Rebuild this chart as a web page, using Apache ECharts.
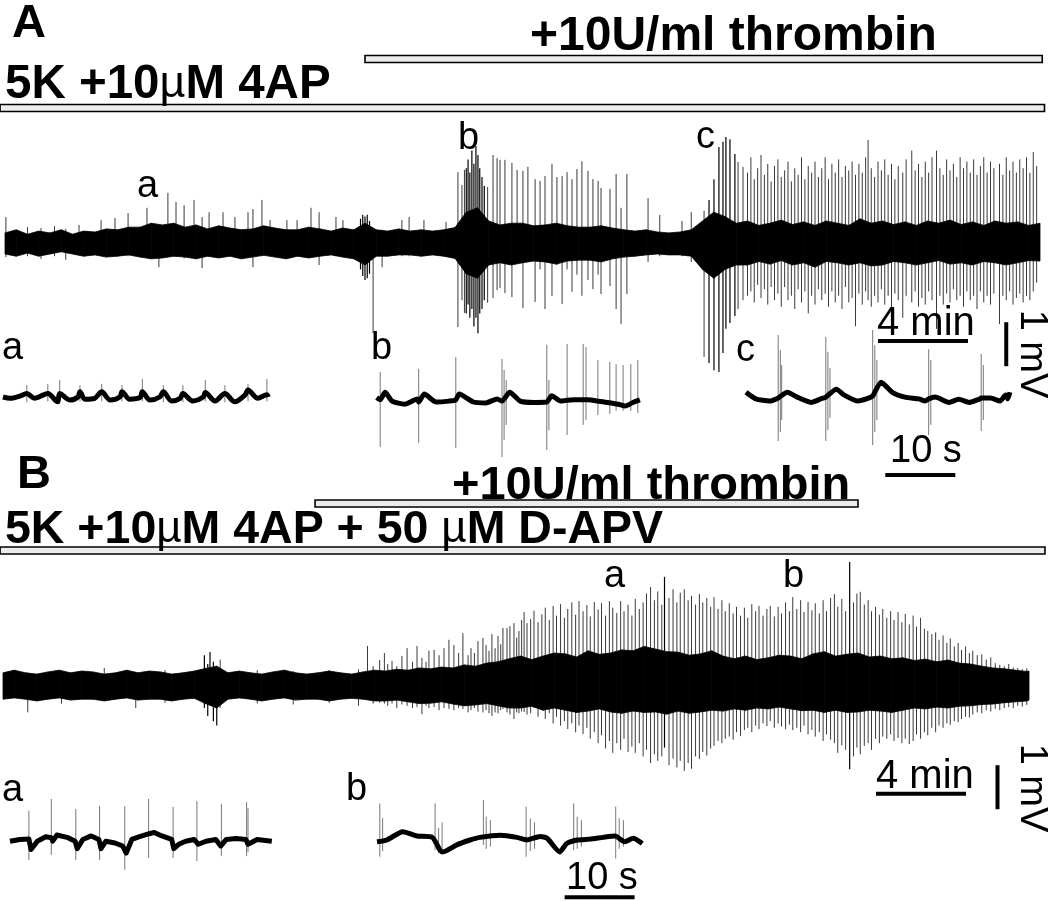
<!DOCTYPE html>
<html><head><meta charset="utf-8">
<script src="https://cdn.jsdelivr.net/npm/echarts/dist/echarts.min.js"></script>
<style>html,body{margin:0;padding:0;background:#fff}#c{width:1050px;height:901px}</style>
</head><body><div id="c"></div>
<script>
// ---------------- DATA (time in min / s, amplitude in mV) ----------------
// Panel A, long recording: noise core envelope sampled every half minute
const coreTimeA = [0,0.5,1,1.5,2,2.5,3,3.5,4,4.5,5,5.5,6,6.5,7,7.5,8,8.5,9,9.5,10,10.5,11,11.5,12,12.5,13,13.5,14,14.5,15,15.5,16,16.5,17,17.5,18,18.5,19,19.5,20,20.5,21,21.5,22,22.5,23,23.5,24,24.5,25,25.5,26,26.5,27,27.5,28,28.5,29,29.5,30,30.5,31,31.5,32,32.5,33,33.5,34,34.5,35,35.5,36,36.5,37,37.5,38,38.5,39,39.5,40,40.5,41,41.5,42,42.5,43,43.5,44,44.5,45,45.5,46];
const coreTopA = [0.23,0.3,0.2,0.27,0.23,0.3,0.2,0.27,0.25,0.32,0.3,0.36,0.36,0.45,0.41,0.45,0.36,0.41,0.32,0.39,0.34,0.3,0.32,0.39,0.34,0.3,0.3,0.36,0.32,0.27,0.34,0.3,0.45,0.3,0.27,0.32,0.27,0.3,0.27,0.3,0.35,0.7,0.8,0.5,0.41,0.45,0.45,0.39,0.41,0.45,0.39,0.36,0.36,0.39,0.34,0.3,0.27,0.3,0.25,0.23,0.25,0.3,0.5,0.7,0.6,0.45,0.5,0.4,0.45,0.52,0.42,0.48,0.4,0.5,0.45,0.4,0.55,0.45,0.5,0.42,0.48,0.4,0.5,0.45,0.52,0.42,0.48,0.4,0.5,0.45,0.48,0.4,0.45];
const coreBotA = [-0.25,-0.3,-0.23,-0.3,-0.25,-0.2,-0.25,-0.3,-0.27,-0.32,-0.3,-0.27,-0.32,-0.36,-0.34,-0.3,-0.32,-0.36,-0.3,-0.34,-0.3,-0.36,-0.32,-0.28,-0.32,-0.36,-0.3,-0.34,-0.3,-0.27,-0.32,-0.36,-0.5,-0.3,-0.3,-0.27,-0.27,-0.3,-0.27,-0.3,-0.35,-0.7,-0.8,-0.5,-0.45,-0.5,-0.45,-0.41,-0.43,-0.48,-0.41,-0.39,-0.39,-0.43,-0.36,-0.32,-0.3,-0.27,-0.25,-0.27,-0.27,-0.3,-0.6,-0.8,-0.6,-0.5,-0.5,-0.42,-0.48,-0.4,-0.5,-0.45,-0.55,-0.42,-0.45,-0.5,-0.45,-0.52,-0.5,-0.42,-0.45,-0.5,-0.45,-0.4,-0.48,-0.45,-0.5,-0.42,-0.45,-0.5,-0.45,-0.4,-0.41];
// Panel A spikes: [time min, top mV, bottom mV, dark]
const spikesA = [
[0.04,0.59,-0.32],[1.0,0.36,-0.3],[1.6,0.34,-0.36],[2.2,0.38,-0.3],[2.7,0.32,-0.38],[3.29,0.41,-0.2],[4.27,0.52,-0.25],[4.89,0.57,-0.25],[5.47,0.68,-0.3],[6.31,0.8,-0.3],[6.84,0.3,-0.55],[7.24,1.14,-0.3],[7.6,0.93,-0.3],[7.96,0.86,-0.35],[8.4,0.98,-0.3],[8.76,0.59,-0.57],[9.07,0.7,-0.3],[9.69,0.7,-0.3],[10.22,0.59,-0.3],[10.8,0.7,-0.3],[11.02,0.77,-0.55],[11.42,0.98,-0.3],[11.78,0.52,-0.3],[12.53,0.52,-0.3],[12.98,0.52,-0.3],[13.6,0.8,-0.3],[13.96,0.7,-0.5],[14.71,0.59,-0.3],[15.02,0.52,-0.3],
[15.8,0.55,-0.6,1],[15.9,0.64,-0.75,1],[16.0,0.6,-0.84,1],[16.1,0.64,-0.8,1],[16.2,0.5,-0.7,1],[16.36,0.3,-2.05],[16.76,0.3,-0.55],[17.64,0.52,-0.3],[17.96,0.59,-0.3],[18.62,0.52,-0.3],[19.6,0.48,-0.3],
[20.13,1.61,-1.91],[20.31,1.32,-1.3],[20.42,1.66,-1.59],
[20.5,1.7,-1.6,1],[20.58,1.9,-1.4,1],[20.66,1.6,-1.7,1],[20.75,2.1,-1.5,1],[20.84,1.8,-1.9,1],[20.93,2.2,-1.7,1],[21.02,2.0,-2.05,1],[21.1,1.7,-1.6,1],[21.2,1.5,-1.5,1],[21.3,1.3,-1.3,1],
[21.45,1.27,-1.36],[21.69,2.0,-1.25],[21.87,1.93,-1.07],[22.0,1.89,-1.02],[22.22,1.89,-1.14],[22.53,1.82,-1.23],[22.76,1.66,-0.4],[23.02,1.64,-1.48],[23.24,1.73,-0.4],[23.56,1.45,-1.34],[23.78,1.41,-0.6],[24.0,1.52,-1.5],[24.31,1.8,-1.2],[24.53,1.5,-0.5],[24.76,1.52,-1.39],[24.98,1.61,-0.6],[25.2,1.45,-1.11],[25.42,1.68,-0.72],[25.64,1.86,-1.2],[25.91,1.64,-0.84],[26.13,1.45,-1.05],[26.36,1.41,-0.72],[26.49,1.25,-1.16],[26.89,1.23,-0.98],[27.16,1.57,-1.5],[27.38,0.8,-1.84],[27.64,1.57,-1.16],[28.58,1.02,-0.43],[29.1,0.64,-0.3],[30.09,0.5,-0.3],[30.5,0.7,-0.43],[31.07,0.73,-2.59],
[31.29,0.98,-2.73,1],[31.51,1.45,-2.89,1],[31.73,2.18,-2.93,1],[31.91,2.3,-2.5,1],[32.04,2.41,-1.95,1],[32.22,2.36,-1.82,1],[32.44,2.02,-1.66,1],[32.58,1.84,-1.5],[32.8,1.73,-1.3],
[33.0,1.6,-1.2],[33.15,1.95,-1.1],[33.3,1.45,-1.35],[33.45,1.7,-0.95],[33.6,2.0,-1.25],[33.75,1.55,-1.05],[33.9,1.8,-1.4],[34.05,1.4,-1.0],[34.2,1.75,-1.3],[34.35,1.9,-1.15],[34.5,1.5,-1.45],[34.65,1.65,-1.0],[34.8,1.85,-1.3],[34.95,1.4,-1.2],[35.1,1.7,-1.5],[35.25,1.55,-1.05],[35.4,1.95,-1.35],[35.55,1.45,-1.1],[35.7,1.75,-1.6],[35.85,1.6,-1.2],[36.0,1.85,-1.4],[36.15,1.5,-1.05],[36.3,1.7,-1.3],[36.45,1.95,-1.15],[36.6,1.45,-1.45],[36.75,1.8,-1.1],[36.9,1.6,-1.35],[37.05,1.9,-1.2],[37.2,1.5,-1.5],[37.35,1.75,-1.0],[37.5,1.65,-1.35],[37.65,1.85,-1.25],[37.8,1.55,-1.89],[37.95,1.8,-1.15],[38.1,1.6,-1.4],[38.25,1.95,-1.1],[38.36,2.34,-1.3],[38.5,1.7,-1.45],[38.65,1.5,-1.2],[38.8,1.85,-1.35],[38.95,1.65,-1.05],[39.1,1.9,-1.4],[39.25,1.55,-1.2],[39.4,1.8,-1.5],[39.55,1.45,-1.15],[39.7,1.75,-1.3],[39.9,1.6,-1.7],[40.05,1.9,-1.2],[40.3,2.1,-1.35],[40.45,1.65,-1.1],[40.6,1.8,-1.45],[40.75,1.5,-1.25],[40.9,1.85,-1.4],[41.05,1.6,-1.1],[41.2,1.95,-1.3],[41.4,2.1,-1.95],[41.55,1.7,-1.2],[41.7,1.55,-1.4],[41.85,1.9,-1.15],[42.0,1.65,-1.35],[42.15,1.8,-1.05],[42.3,1.5,-1.3],[42.45,1.95,-1.2],[42.6,1.7,-1.45],[42.75,1.85,-1.1],[42.9,1.6,-1.3],[43.05,1.9,-1.2],[43.2,1.55,-1.5],[43.35,1.75,-1.1],[43.5,1.95,-1.35],[43.65,1.6,-1.2],[43.8,1.85,-1.4],[43.95,1.7,-1.15],[44.2,1.8,-1.84],[44.35,1.55,-1.2],[44.5,1.95,-1.3],[44.65,1.65,-1.1],[44.8,1.85,-1.4],[44.95,1.6,-1.25],[45.1,1.9,-1.15],[45.25,1.7,-1.35],[45.4,1.95,-1.2],[45.55,1.6,-1.3],[45.7,2.07,-1.1],[45.85,1.75,-0.9]
];
// Panel B, long recording
const coreTimeB = [0,0.5,1,1.5,2,2.5,3,3.5,4,4.5,5,5.5,6,6.5,7,7.5,8,8.5,9,9.5,10,10.5,11,11.5,12,12.5,13,13.5,14,14.5,15,15.5,16,16.5,17,17.5,18,18.5,19,19.5,20,20.5,21,21.5,22,22.5,23,23.5,24,24.5,25,25.5,26,26.5,27,27.5,28,28.5,29,29.5,30,30.5,31,31.5,32,32.5,33,33.5,34,34.5,35,35.5,36,36.5,37,37.5,38,38.5,39,39.5,40,40.5,41,41.5,42,42.5,43,43.5,44,44.5,45,45.5,45.6];
const coreTopB = [0.3,0.36,0.3,0.27,0.32,0.36,0.3,0.34,0.32,0.27,0.3,0.36,0.3,0.34,0.32,0.27,0.3,0.34,0.4,0.45,0.3,0.34,0.3,0.27,0.32,0.36,0.3,0.27,0.3,0.34,0.3,0.27,0.32,0.36,0.34,0.38,0.36,0.41,0.39,0.43,0.41,0.48,0.45,0.52,0.55,0.62,0.68,0.6,0.68,0.75,0.73,0.66,0.8,0.72,0.75,0.82,0.8,0.9,0.84,0.78,0.77,0.7,0.73,0.8,0.68,0.62,0.68,0.6,0.64,0.7,0.68,0.62,0.73,0.78,0.68,0.72,0.75,0.66,0.68,0.62,0.64,0.58,0.61,0.55,0.59,0.52,0.5,0.45,0.41,0.39,0.36,0.33,0.34];
const coreBotB = [-0.3,-0.27,-0.3,-0.34,-0.3,-0.27,-0.32,-0.3,-0.3,-0.34,-0.3,-0.27,-0.32,-0.3,-0.3,-0.34,-0.3,-0.28,-0.4,-0.5,-0.3,-0.27,-0.3,-0.34,-0.3,-0.27,-0.32,-0.3,-0.3,-0.34,-0.3,-0.28,-0.3,-0.34,-0.34,-0.32,-0.36,-0.4,-0.39,-0.36,-0.41,-0.45,-0.43,-0.4,-0.45,-0.5,-0.5,-0.46,-0.55,-0.5,-0.55,-0.6,-0.57,-0.52,-0.59,-0.62,-0.57,-0.6,-0.59,-0.64,-0.57,-0.62,-0.59,-0.55,-0.57,-0.52,-0.55,-0.5,-0.52,-0.48,-0.52,-0.56,-0.55,-0.6,-0.55,-0.6,-0.59,-0.55,-0.57,-0.6,-0.55,-0.5,-0.52,-0.48,-0.5,-0.46,-0.45,-0.42,-0.41,-0.38,-0.36,-0.34,-0.32];
const spikesB = [
[1.1,0.3,-0.6],[2.6,0.36,-0.4],[4.5,0.41,-0.32],[5.9,0.3,-0.5],[7.2,0.36,-0.38],[8.95,0.7,-0.5,1],[9.1,0.5,-0.68,1],[9.2,0.77,-0.4,1],[9.35,0.55,-0.8,1],[9.5,0.45,-0.9,1],[9.65,0.6,-0.5],[11.3,0.36,-0.4],[12.9,0.34,-0.42],[14.5,0.36,-0.38],[15.8,0.38,-0.45],
[16.2,0.91,-0.3],[16.45,0.45,-0.4],[16.74,0.59,-0.38],[16.95,0.75,-0.4],[17.1,0.5,-0.45],[17.29,0.57,-0.4],[17.5,0.45,-0.5],[17.73,0.68,-0.42],[17.96,0.86,-0.45],[18.2,0.55,-0.5],[18.4,0.91,-0.48],[18.62,0.64,-0.64],[18.8,0.55,-0.45],[18.93,0.8,-0.5],[19.16,0.82,-0.48],[19.38,0.7,-0.55],[19.6,0.86,-0.5],[19.82,1.05,-0.52],[20.04,0.93,-0.55],[20.25,0.75,-0.5],[20.44,1.2,-0.52],[20.67,0.7,-0.6],[20.8,0.86,-0.55],[20.95,0.75,-0.5],[21.11,1.02,-0.58],[21.33,1.09,-0.6],[21.47,0.93,-0.55],[21.6,0.8,-0.62],[21.73,1.18,-0.68],[21.87,0.86,-0.6],[22.0,1.14,-0.62],[22.12,0.95,-0.55],[22.22,1.32,-0.52],[22.4,1.32,-0.6],[22.53,1.36,-0.65],[22.71,1.43,-0.75],[22.83,1.1,-0.6],[22.93,1.25,-0.62],[23.05,1.5,-0.58],[23.16,1.68,-0.59],[23.29,1.43,-0.65],
[23.45,1.52,-0.62],[23.6,1.71,-0.5],[23.78,1.45,-0.7],[23.95,1.63,-0.55],[24.1,1.78,-0.75],[24.28,1.5,-0.62],[24.45,1.82,-0.85],[24.6,1.6,-0.7],[24.78,1.86,-0.9],[24.95,1.55,-0.8],[25.1,1.75,-0.98],[25.28,1.9,-0.85],[25.45,1.62,-1.05],[25.6,1.93,-0.9],[25.78,1.7,-1.09],[25.95,1.84,-0.95],[26.1,1.58,-1.2],[26.28,1.91,-1.05],[26.45,1.74,-1.3],[26.6,1.88,-1.12],[26.78,1.6,-1.42],[26.95,1.93,-1.25],[27.1,1.78,-1.52],[27.28,1.66,-1.3],[27.45,1.93,-1.45],[27.6,1.7,-1.2],[27.78,1.85,-1.5],[27.95,1.6,-1.38],[28.1,1.98,-1.52],[28.28,1.75,-1.3],[28.45,1.9,-1.6],[28.6,2.1,-1.45],[28.78,2.25,-1.75],[28.95,1.95,-1.55],[29.1,2.15,-1.7],[29.28,1.85,-1.6],[29.4,2.48,-1.4,1],[29.6,2.0,-1.8],[29.78,2.2,-1.65],[29.95,1.9,-1.85],[30.1,2.12,-1.7],[30.28,2.2,-1.93],[30.45,1.95,-1.75],[30.6,2.05,-1.88],[30.78,1.85,-1.6],[30.95,2.09,-1.66],[31.1,1.9,-1.5],[31.28,2.0,-1.58],[31.45,1.8,-1.42],[31.6,2.02,-1.36],[31.78,1.75,-1.25],[31.95,1.95,-1.3],[32.1,1.7,-1.2],[32.28,1.88,-1.15],[32.45,1.65,-1.22],[32.6,1.8,-1.05],[32.78,1.6,-1.14],[32.95,1.78,-1.0],[33.1,1.55,-0.95],[33.28,1.86,-1.05],[33.45,1.7,-0.9],[33.6,1.82,-0.98],[33.78,1.6,-0.85],[33.95,1.75,-0.91],[34.1,1.82,-0.8],[34.28,1.58,-0.95],[34.45,1.8,-0.85],[34.6,1.65,-0.92],[34.78,1.9,-0.98],[34.95,1.7,-0.88],[35.1,2.02,-1.0],[35.28,1.75,-0.95],[35.45,1.95,-1.05],[35.6,1.68,-0.9],[35.78,1.91,-1.1],[35.95,1.72,-1.0],[36.1,1.88,-1.15],[36.28,1.65,-1.05],[36.45,1.95,-1.25],[36.6,1.7,-1.1],[36.78,2.0,-1.22],[36.95,2.09,-1.3],[37.1,1.8,-1.52],[37.28,1.98,-1.35],[37.45,1.7,-1.45],[37.63,2.82,-1.89,1],[37.8,1.9,-1.6],[37.95,2.1,-1.4],[38.1,2.14,-1.55],[38.28,1.85,-1.36],[38.45,1.95,-1.3],[38.6,1.7,-1.45],[38.78,1.8,-1.2],[38.95,1.62,-1.3],[39.1,1.75,-1.15],[39.28,1.55,-1.2],[39.45,1.7,-1.1],[39.6,1.5,-1.25],[39.78,1.68,-1.18],[39.95,1.45,-1.3],[40.1,1.64,-1.2],[40.28,1.4,-1.32],[40.45,1.6,-1.25],[40.6,1.35,-1.1],[40.78,1.55,-1.2],[40.95,1.3,-1.05],[41.1,1.25,-1.12],[41.28,1.18,-0.95],[41.45,1.22,-1.05],[41.6,1.05,-0.9],[41.78,1.15,-0.95],[41.95,0.98,-0.85],[42.1,1.08,-0.88],[42.28,0.9,-0.8],[42.45,0.98,-0.82],[42.6,0.82,-0.75],[42.78,0.9,-0.7],[42.95,0.75,-0.72],[43.1,0.8,-0.65],[43.3,0.7,-0.6],[43.5,0.72,-0.62],[43.7,0.6,-0.55],[43.9,0.65,-0.58],[44.1,0.52,-0.52],[44.3,0.48,-0.55],[44.5,0.45,-0.5],[44.7,0.5,-0.48],[44.9,0.42,-0.5],[45.1,0.41,-0.45],[45.3,0.38,-0.47],[45.5,0.4,-0.43]
];
// Insets (time in s, mV): slow wave + spikes
const waveAa = [[0,0],[1,-0.03],[2.4,0.02],[3.4,0.08],[4.5,-0.03],[6.4,0.08],[7.8,-0.11],[8.1,0.08],[9.6,-0.07],[10.7,0],[11,0.12],[11.7,-0.05],[13.1,-0.03],[14.1,0.12],[15.3,-0.07],[16.7,0],[17,0.12],[18.1,-0.05],[19.6,-0.01],[19.9,0.12],[21,-0.07],[22.4,0],[22.9,0.12],[24.1,-0.09],[25.3,-0.03],[25.7,0.08],[27.1,-0.09],[28.6,0],[28.9,0.1],[30.3,-0.09],[31.7,0.08],[33.1,-0.11],[34.6,0.05],[35,0.16],[36.4,-0.03],[37.7,0.05],[37.9,0]];
const spikesAa = [[3.4,0.27,-0.12],[6.4,0.3,-0.1],[8.1,0.39,-0.15],[11,0.27,-0.1],[14.1,0.3,-0.1],[17,0.27,-0.1],[19.9,0.41,-0.1],[22.9,0.27,-0.12],[25.7,0.27,-0.12],[28.9,0.39,-0.1],[31.7,0.27,-0.12],[35,0.3,-0.1],[37.7,0.41,-0.1]];
const waveAb = [[0.1,0.1],[0.6,0.05],[1.3,0.22],[2.3,0.02],[4.1,-0.05],[5.9,0.07],[6.1,0.0],[6.9,0.18],[8.6,0],[10.4,0.02],[11.4,0.05],[11.9,0.18],[13.9,0],[15.7,-0.02],[17.3,0.07],[18,0.02],[19.1,0.22],[20.6,0.02],[22.6,-0.01],[24.4,0.0],[25.1,0.14],[26.4,0.02],[27.3,0.04],[28.3,0.05],[30.3,0.05],[31.7,0.02],[33.1,-0.01],[34.6,-0.05],[35.6,-0.09],[36.7,-0.01],[37.7,0.05]];
const spikesAb = [[0.6,0.68,-1.02],[6.1,0.75,-0.93],[11.4,1.02,-1.05],[18.0,0.98,-1.25],[18.3,0.73,-0.86],[18.6,0.5,-0.52],[24.4,1.3,-1.09],[24.7,0.5,-0.64],[27.3,1.32,-0.75],[29.6,1.32,-0.52],[30.0,1.25,-0.41],[31.7,0.95,-0.3],[33.4,0.91,-0.27],[34.3,0.86,-0.2],[35.3,0.84,-0.2],[36.4,0.86,-0.2],[37.4,0.95,-0.25]];
const waveAc = [[0,0.13],[1.4,-0.02],[3.4,-0.07],[4.6,0.0],[5.9,0.13],[7.3,0.02],[9.3,-0.1],[10.7,-0.02],[11.4,0.02],[12.9,0.2],[14,0.07],[16,-0.07],[17.4,-0.01],[18.1,0.05],[19.3,0.36],[20.9,0.13],[22.7,0.02],[24.7,-0.02],[25.6,-0.07],[26.1,-0.02],[27,0.02],[29,-0.1],[30.4,-0.03],[31.9,-0.1],[33.3,-0.03],[33.6,0.0],[34.9,0.0],[36.3,-0.07],[37.1,0.07],[37.4,-0.02],[37.7,0.13]];
const spikesAc = [[4.6,1.43,-0.98],[4.9,1.09,-0.77],[5.1,0.75,-0.5],[11.4,1.39,-0.98],[11.7,1.05,-0.73],[12.0,0.68,-0.45],[18.1,1.55,-1.07],[18.4,1.2,-0.77],[18.7,0.86,-0.5],[26.1,1.11,-0.84],[26.4,0.86,-0.61],[33.6,1.0,-0.75],[33.9,0.75,-0.5]];
const waveBa = [[0,-0.05],[1.4,-0.01],[2.7,0],[3,-0.24],[3.9,-0.05],[5.1,0.05],[5.9,0.03],[6.1,-0.05],[6.7,0.09],[8.3,0.03],[9.3,-0.05],[9.6,-0.22],[10.4,-0.01],[11.6,0.07],[12.7,-0.01],[13,-0.22],[13.7,-0.05],[15,-0.09],[16.1,-0.16],[16.6,-0.32],[17.4,-0.01],[18.4,0.05],[19.9,0.12],[20.6,0.15],[21.7,0.07],[23.1,-0.01],[23.4,-0.22],[24.1,-0.12],[25.1,-0.05],[26.3,-0.01],[26.9,-0.12],[28,-0.05],[29.4,-0.01],[30.1,-0.16],[30.9,-0.01],[32.3,0.01],[33.7,-0.01],[34,-0.12],[35.3,-0.01],[37.4,-0.05]];
const spikesBa = [[2.7,0.64,-0.48],[5.9,0.91,-0.36],[9.4,0.68,-0.48],[12.8,0.75,-0.48],[16.4,0.75,-0.7],[19.8,0.91,-0.43],[23.3,0.73,-0.43],[26.7,0.86,-0.5],[30.2,0.8,-0.39],[33.8,0.84,-0.39],[34.0,0.7,-0.3]];
const waveBb = [[0,-0.04],[1.4,0],[3.7,0.19],[5.7,0.09],[7.9,0.06],[9,-0.23],[9.4,-0.27],[11.4,-0.11],[13.3,0],[14.7,0.06],[17.6,0.11],[20,0.06],[21.4,0],[23.3,0.08],[24.3,0.04],[26.1,-0.27],[27.1,-0.08],[28.6,0],[30.4,0.02],[32.3,0.06],[34,0.09],[35.4,-0.04],[36.6,0.04],[37.9,-0.08]];
const spikesBb = [[0.4,0.83,-0.38],[0.8,0.5,-0.25],[8.3,0.83,-0.23],[8.8,0.27,-0.3],[9.3,0.4,-0.2],[15.2,0.91,-0.11],[15.6,0.53,-0.2],[16.2,0.45,-0.15],[21.3,0.76,-0.38],[21.9,0.49,-0.25],[22.5,0.4,-0.2],[28.1,0.83,-0.23],[28.6,0.53,-0.2],[29.2,0.45,-0.15],[34.1,0.76,-0.42],[34.6,0.49,-0.2],[35.2,0.45,-0.15]];
// drug application periods [start min, end min, row]
const drugRows = ['+10U/ml thrombin','baseline'];
const drugBarsA = [[16.0,46.1,0],[-0.22,46.2,1]];
const drugBarsB = [[13.87,38.0,0],[-0.13,46.31,1]];
// scale bars [x1,y1,x2,y2] in axis units
const scaleA = [[38.8,-2.23,42.8,-2.23],[44.5,-1.8,44.5,-2.8]];
const scaleB = [[38.8,-2.45,42.8,-2.45],[44.2,-1.8,44.2,-2.8]];
const scaleInsetA = [[19.9,-1.75,29.9,-1.75]];
const scaleInsetB = [[26.8,-1.3,36.8,-1.3]];

// ---------------- CHART ----------------
const FONT = '"Liberation Sans", Arial, Helvetica, sans-serif';
const chart = echarts.init(document.getElementById('c'), null, {renderer:'canvas'});

function coreSeries(times, top, bot, gi){
  return {type:'custom', xAxisIndex:gi, yAxisIndex:gi, silent:true, animation:false, z:3,
    data: times.map((t,i)=>[t, top[i], bot[i]]),
    renderItem(p, api){
      const i = p.dataIndex; if (i >= times.length-1) return null;
      const pts = [api.coord([times[i], top[i]]), api.coord([times[i+1], top[i+1]]),
                   api.coord([times[i+1], bot[i+1]]), api.coord([times[i], bot[i]])];
      return {type:'polygon', shape:{points:pts}, style:{fill:'#000', stroke:'#000', lineWidth:0.8}};
    }};
}
function spikeSeries(data, gi, light){
  return {type:'custom', xAxisIndex:gi, yAxisIndex:gi, silent:true, animation:false, z:2,
    dimensions:['t','top','bot','dark'], data: data.map(d=>[d[0],d[1],d[2],d[3]||0]),
    renderItem(p, api){
      const a = api.coord([api.value(0), api.value(1)]);
      const b = api.coord([api.value(0), api.value(2)]);
      const dark = api.value(3) === 1;
      return {type:'line', shape:{x1:a[0],y1:a[1],x2:b[0],y2:b[1]},
        style:{stroke: dark ? '#000' : (light ? '#777' : '#3a3a3a'), lineWidth: dark ? 1.2 : 1}};
    }};
}
function waveSeries(data, gi, smooth){
  return {type:'line', xAxisIndex:gi, yAxisIndex:gi, data, showSymbol:false, silent:true, animation:false, z:4,
    smooth: smooth || false, lineStyle:{color:'#000', width:5, join:'round'}};
}
function drugSeries(data, gi){
  return {type:'custom', xAxisIndex:gi, yAxisIndex:gi, silent:true, animation:false, data,
    renderItem(p, api){
      const a = api.coord([api.value(0), api.value(2)]);
      const b = api.coord([api.value(1), api.value(2)]);
      return {type:'rect', shape:{x:a[0], y:a[1]-3.5, width:b[0]-a[0], height:7},
        style:{fill:'#ececec', stroke:'#000', lineWidth:1.6}};
    }};
}
function scaleSeries(data, gi){
  return {type:'custom', xAxisIndex:gi, yAxisIndex:gi, silent:true, animation:false, data, z:5,
    renderItem(p, api){
      const a = api.coord([api.value(0), api.value(1)]);
      const b = api.coord([api.value(2), api.value(3)]);
      return {type:'line', shape:{x1:a[0],y1:a[1],x2:b[0],y2:b[1]}, style:{stroke:'#000', lineWidth:4}};
    }};
}

const grids = [
  {left:5, top:133, width:1035, height:242},   // 0 A trace
  {left:5, top:34.5, width:1035, height:98},   // 1 A drug bars
  {left:3, top:554, width:1026, height:264},   // 2 B trace
  {left:3, top:480, width:1026, height:94},    // 3 B drug bars
  {left:3, top:309, width:266, height:176},    // 4 A-a
  {left:376, top:314, width:266, height:176},  // 5 A-b
  {left:746, top:310, width:266, height:176},  // 6 A-c
  {left:10, top:751, width:266, height:147.4}, // 7 B-a
  {left:377, top:752, width:266, height:147.4} // 8 B-b
];
const xr = [[0,46],[0,46],[0,45.6],[0,45.6],[0,38],[0,38],[0,38],[0,38],[0,38]];
const yr = [[-3,2.5],null,[-3,3],null,[-2,2],[-2,2],[-2,2],[-1.35,2],[-1.35,2]];
const xAxis = grids.map((g,i)=>({type:'value', gridIndex:i, min:xr[i][0], max:xr[i][1], show:false}));
const yAxis = grids.map((g,i)=> yr[i] ? {type:'value', gridIndex:i, min:yr[i][0], max:yr[i][1], show:false}
  : {type:'category', gridIndex:i, data:drugRows, inverse:true, show:false});

function txt(text, x, y, size, bold, extra){
  return Object.assign({type:'text', x, y, silent:true, z:10, style:Object.assign({text, fill:'#000',
    font:(bold?'bold ':'')+size+'px '+FONT, align:'left', verticalAlign:'middle'}, (extra&&extra.style)||{})},
    extra && extra.rotation!==undefined ? {rotation:extra.rotation} : {});
}
const muRich = {u:{font:'normal 45px '+FONT, fill:'#000'}};
const muRichB = {u:{font:'normal 44px '+FONT, fill:'#000'}};
const graphic = [
  txt('A', 12, 24, 47, true),
  txt('+10U/ml thrombin', 530, 37, 48, true),
  txt('5K +10{u|µ}M 4AP', 5, 85, 47.5, true, {style:{rich:muRich}}),
  txt('B', 17, 475, 47, true),
  txt('+10U/ml thrombin', 452, 486, 47, true),
  txt('5K +10{u|µ}M 4AP + 50 {u|µ}M D-APV', 5, 530, 46.5, true, {style:{rich:muRichB}}),
  txt('a', 137, 187, 38), txt('b', 458, 139, 38), txt('c', 696, 138, 38),
  txt('a', 2, 349, 38), txt('b', 371, 349, 38), txt('c', 736, 351, 38),
  txt('4 min', 877, 324, 40), txt('10 s', 890, 452, 38),
  txt('1 mV', 1031, 354, 38, false, {rotation:-Math.PI/2, style:{align:'center'}}),
  txt('a', 604, 577, 38), txt('b', 783, 577, 38),
  txt('a', 2, 791, 38), txt('b', 346, 790, 38),
  txt('4 min', 876, 777, 40), txt('10 s', 566, 879, 38),
  txt('1 mV', 1031, 788, 38, false, {rotation:-Math.PI/2, style:{align:'center'}})
];

chart.setOption({
  animation:false,
  backgroundColor:'#fff',
  grid: grids.map(g=>Object.assign({containLabel:false}, g)),
  xAxis, yAxis,
  series:[
    spikeSeries(spikesA, 0), coreSeries(coreTimeA, coreTopA, coreBotA, 0),
    drugSeries(drugBarsA, 1), scaleSeries(scaleA, 0),
    spikeSeries(spikesB, 2), coreSeries(coreTimeB, coreTopB, coreBotB, 2),
    drugSeries(drugBarsB, 3), scaleSeries(scaleB, 2),
    spikeSeries(spikesAa, 4, true), waveSeries(waveAa, 4, 0.3),
    spikeSeries(spikesAb, 5, true), waveSeries(waveAb, 5, 0.2),
    spikeSeries(spikesAc, 6, true), waveSeries(waveAc, 6, 0.2), scaleSeries(scaleInsetA, 6),
    spikeSeries(spikesBa, 7, true), waveSeries(waveBa, 7),
    spikeSeries(spikesBb, 8, true), waveSeries(waveBb, 8, 0.2), scaleSeries(scaleInsetB, 8)
  ],
  graphic
});
</script></body></html>
